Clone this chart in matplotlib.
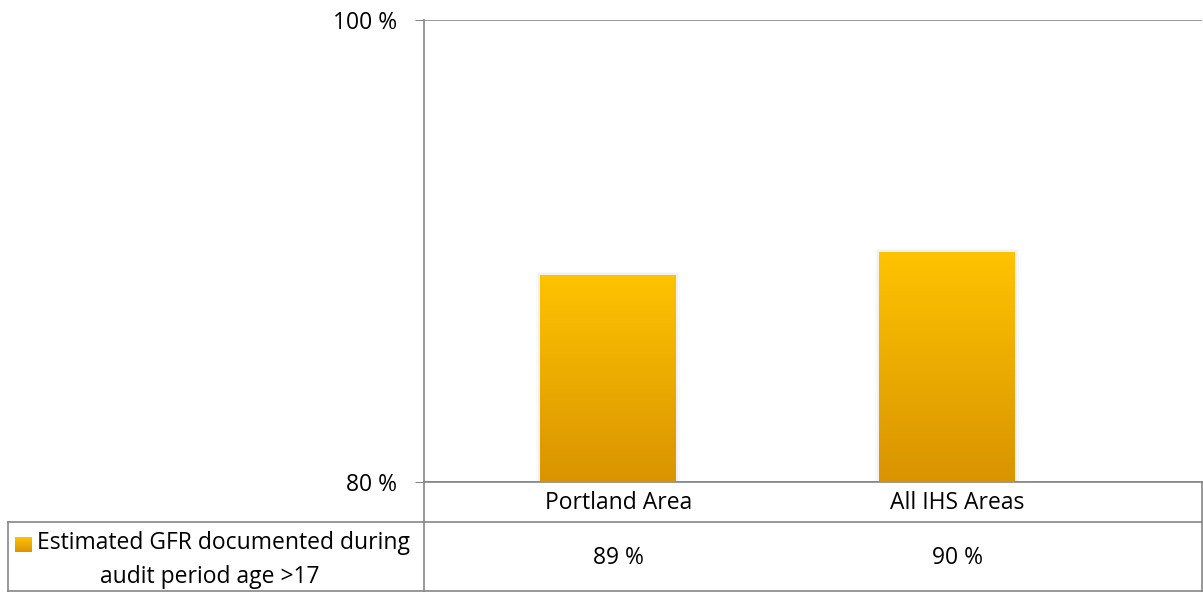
import numpy as np
import matplotlib
matplotlib.use("Agg")
import matplotlib.pyplot as plt
from matplotlib.lines import Line2D
from matplotlib.patches import Rectangle
import matplotlib.transforms as mtransforms

# data
categories = ["Portland Area", "All IHS Areas"]
values = [88.97, 89.97]
value_labels = ["89 %", "90 %"]
series_line1 = "Estimated GFR documented during"
series_line2 = "audit period age >17"
y_ticks = [80, 100]
y_tick_labels = ["80 %", "100 %"]

W, H = 1203, 592
fig = plt.figure(figsize=(W / 100, H / 100), dpi=100)
plt.rcParams["font.family"] = ["Open Sans", "DejaVu Sans"]
FS = 16.5


def fx(px):
    return px / W


def fy(py):
    return 1 - py / H


# plot area in pixels
left, right, top, bottom = 424, 1202, 20, 482
ax = fig.add_axes([fx(left), fy(bottom), fx(right - left), fy(top) - fy(bottom)])

x = np.arange(len(categories))
bars = ax.bar(x, values, width=0.40, bottom=0, color="#F2B000", zorder=2)

# vertical gradient inside each bar
grad = np.linspace(0, 1, 256).reshape(-1, 1)
cmap = matplotlib.colors.LinearSegmentedColormap.from_list("g", ["#FFC300", "#D99400"])
for b in bars:
    bx, bw, bh = b.get_x(), b.get_width(), b.get_height()
    # soft shadow
    for i, a in enumerate([0.06, 0.035]):
        sh = Rectangle((bx - 0.006 * (i + 1), 80), bw + 0.012 * (i + 1), bh - 80 + 0.06 * (i + 1),
                       facecolor="#707070", alpha=a, edgecolor="none", zorder=1)
        ax.add_patch(sh)
    im = ax.imshow(grad, extent=[bx, bx + bw, 80, bh], aspect="auto", cmap=cmap,
                   origin="upper", zorder=3)
    im.set_clip_path(b)
    b.set_facecolor("none")

ax.set_xlim(-0.543, 1.752)
ax.set_ylim(80, 100)
ax.set_yticks(y_ticks)
ax.set_yticklabels(y_tick_labels, fontsize=FS)
ax.set_xticks([])
ax.tick_params(axis="y", length=6.5, color="#868686", pad=13)
ax.grid(axis="y", color="#868686", linewidth=1.2, zorder=0)
for s in ["top", "right"]:
    ax.spines[s].set_visible(False)
ax.spines["left"].set_visible(False)
ax.spines["bottom"].set_color("#868686")
ax.spines["bottom"].set_linewidth(1.2)

# table below the plot
gc = "#868686"
lines = [
    ((left, left), (top, H)),           # vertical axis line down through table
    ((right, right), (bottom, H)),      # right border
    ((8, right), (522, 522)),           # row separator
    ((8, 8), (522, H)),                 # left border
    ((8, right), (H - 1, H - 1)),       # bottom border
]
for xs, ys in lines:
    fig.add_artist(Line2D([fx(xs[0]), fx(xs[1])], [fy(ys[0]), fy(ys[1])],
                          color=gc, linewidth=1.2, transform=fig.transFigure))

trans_hdr = mtransforms.blended_transform_factory(ax.transData, fig.transFigure)
for xi, cat, lab in zip(x, categories, value_labels):
    ax.text(xi + 0.03, fy(503), cat, transform=trans_hdr, ha="center", va="center",
            fontsize=FS, clip_on=False)
    ax.text(xi + 0.03, fy(558), lab, transform=trans_hdr, ha="center", va="center",
            fontsize=FS, clip_on=False)

# legend key and series name
key = fig.add_axes([fx(15), fy(552), fx(17), fy(537) - fy(552)])
key.imshow(grad, aspect="auto", cmap=cmap)
key.axis("off")
fig.text(fx(37), fy(543), series_line1, ha="left", va="center", fontsize=FS)
fig.text(fx(210), fy(577), series_line2, ha="center", va="center", fontsize=FS)

fig.savefig("out.png", dpi=100)
